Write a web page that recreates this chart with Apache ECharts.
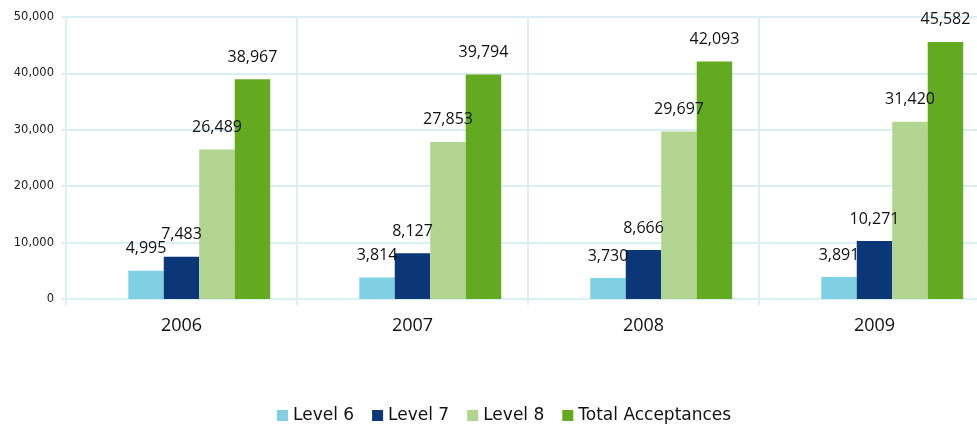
<!DOCTYPE html>
<html>
<head>
<meta charset="utf-8">
<script src="https://cdn.jsdelivr.net/npm/echarts@6/dist/echarts.min.js"></script>
<style>
  html, body { margin: 0; padding: 0; background: #fff; }
  #chart { width: 977px; height: 424px; }
</style>
</head>
<body>
<div id="chart"></div>
<script>
var years = ['2006', '2007', '2008', '2009'];
var level6 = [4995, 3814, 3730, 3891];
var level7 = [7483, 8127, 8666, 10271];
var level8 = [26489, 27853, 29697, 31420];
var totalAcc = [38967, 39794, 42093, 45582];
var names = ['Level 6', 'Level 7', 'Level 8', 'Total Acceptances'];
var colors = ['#7FD0E3', '#0B3779', '#B2D491', '#63AA21'];

var gridColor = '#DAEEF3';

function fmt(p) {
    return Number(p.value).toLocaleString('en-US');
}

function barSeries(name, data, color) {
    return {
        name: name,
        type: 'bar',
        data: data,
        barGap: '0%',
        barCategoryGap: '23.2%',
        itemStyle: { color: color },
        label: {
            show: true,
            position: 'top',
            distance: 14,
            formatter: fmt,
            fontFamily: 'Open Sans',
            fontSize: 16,
            color: '#111'
        }
    };
}

var myChart = echarts.init(document.getElementById('chart'));
var option = {
    animation: false,
    // the plot runs past the right edge in the original picture
    grid: { left: 66, top: 17, right: -13, bottom: 125, outerBoundsMode: 'none' },
    legend: {
        data: names,
        left: 272,
        top: 402,
        itemWidth: 11,
        itemHeight: 11,
        itemGap: 18,
        icon: 'rect',
        textStyle: { fontFamily: 'DejaVu Sans', fontSize: 17, color: '#111' }
    },
    xAxis: {
        type: 'category',
        data: years,
        axisLine: { lineStyle: { color: gridColor, width: 2 } },
        axisTick: { show: true, length: 6, interval: 0, lineStyle: { color: gridColor, width: 2 } },
        splitLine: { show: true, interval: 0, lineStyle: { color: gridColor, width: 2 } },
        axisLabel: { margin: 18, fontFamily: 'Open Sans', fontSize: 18, color: '#111' }
    },
    yAxis: {
        type: 'value',
        min: 0,
        max: 50000,
        interval: 10000,
        axisLine: { show: true, lineStyle: { color: gridColor, width: 2 } },
        axisTick: { show: true, length: 4, lineStyle: { color: gridColor, width: 2 } },
        splitLine: { lineStyle: { color: gridColor, width: 2 } },
        axisLabel: {
            margin: 12,
            fontFamily: 'DejaVu Sans',
            fontSize: 11.5,
            color: '#222',
            formatter: function (v) { return Number(v).toLocaleString('en-US'); }
        }
    },
    series: [
        // empty slot on the left of each group, as in the original
        { name: 'spacer', type: 'bar', data: [null, null, null, null], barGap: '0%', barCategoryGap: '23.2%' },
        barSeries(names[0], level6, colors[0]),
        barSeries(names[1], level7, colors[1]),
        barSeries(names[2], level8, colors[2]),
        barSeries(names[3], totalAcc, colors[3])
    ]
};
myChart.setOption(option);
</script>
</body>
</html>
